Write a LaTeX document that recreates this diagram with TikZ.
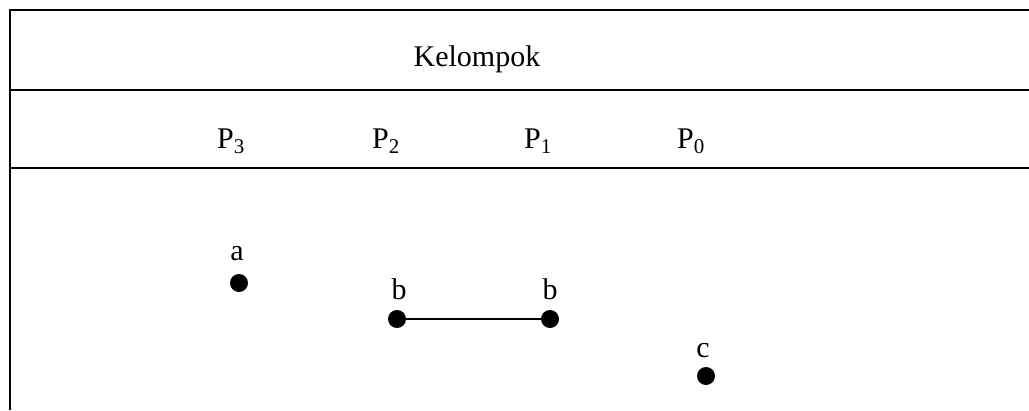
\documentclass[tikz,border=0pt]{standalone}
\usepackage{fontspec}
\setmainfont{Liberation Serif}
\begin{document}
\begin{tikzpicture}[x=1pt,y=-1pt,
  rule/.style={line width=2pt, black},
  txt/.style={inner sep=0pt, font=\fontsize{30}{36}\selectfont, anchor=base},
  hdr/.style={inner sep=0pt, font=\fontsize{30}{36}\selectfont, anchor=base west},
  dot/.style={circle, fill=black, inner sep=0pt, minimum size=18pt},
  link/.style={line width=1.5pt}]
\useasboundingbox (0,0) rectangle (1029,410);
% frame
\coordinate (tl) at (10,10);
\coordinate (tr) at (1029,10);
\coordinate (ml) at (10,90);
\coordinate (mr) at (1029,90);
\coordinate (bl) at (10,168);
\coordinate (br) at (1029,168);
\coordinate (lb) at (10,410);
\draw[rule] (tr) -- (tl) -- (lb);
\draw[rule] (ml) -- (mr);
\draw[rule] (bl) -- (br);
% header texts
\node[txt] (kel) at (477,66) {Kelompok};
\node[hdr] (p3) at (217,148) {P\textsubscript{3}};
\node[hdr] (p2) at (372,148) {P\textsubscript{2}};
\node[hdr] (p1) at (524,148) {P\textsubscript{1}};
\node[hdr] (p0) at (677,148) {P\textsubscript{0}};
% dots
\node[dot] (da) at (239,283) {};
\node[dot] (db1) at (397,319) {};
\node[dot] (db2) at (550,319) {};
\node[dot] (dc) at (706,376) {};
\node[txt] (la) at (237,260) {a};
\node[txt] (lb1) at (399,299) {b};
\node[txt] (lb2) at (550,299) {b};
\node[txt] (lc) at (703,357) {c};
\draw[link] (db1) -- (db2);
\end{tikzpicture}
\end{document}
